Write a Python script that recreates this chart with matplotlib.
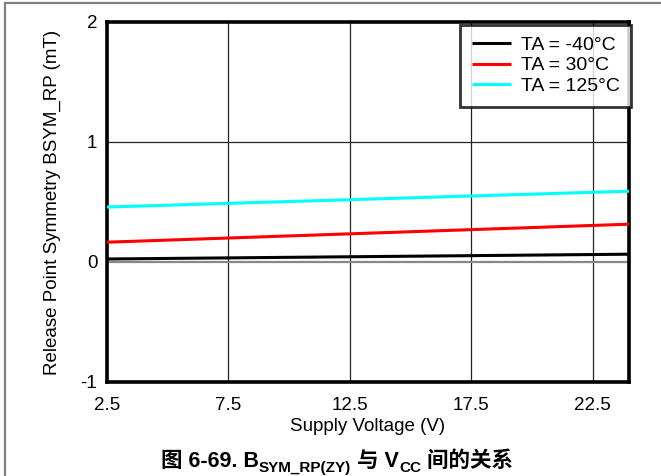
import matplotlib
matplotlib.use("Agg")
import matplotlib.pyplot as plt
from matplotlib.lines import Line2D

plt.rcParams['font.family'] = ['Liberation Sans', 'DejaVu Sans']

# Data
vcc = [2.5, 24.0]
series_labels = ['TA = -40°C', 'TA = 30°C', 'TA = 125°C']
series_colors = ['#000000', '#ff0000', '#00ffff']
b_m40 = [0.025, 0.065]
b_30 = [0.165, 0.315]
b_125 = [0.458, 0.59]
x_ticks = [2.5, 7.5, 12.5, 17.5, 22.5]
y_ticks = [-1, 0, 1, 2]

W, H = 661, 476
fig = plt.figure(figsize=(W / 100, H / 100), dpi=100)

def fx(px):
    return px / W

def fy(py):
    return 1 - py / H

FS = 13.5
ax = fig.add_axes([fx(107), fy(382), fx(629) - fx(107), fy(22) - fy(382)])
ax.set_xlim(2.5, 24.0)
ax.set_ylim(-1, 2)
ax.set_xticks(x_ticks)
ax.set_xticklabels(['2.5', '7.5', '12.5', '17.5', '22.5'])
ax.set_yticks(y_ticks)
ax.set_yticklabels(['-1', '0', '1', '2'])
ax.tick_params(length=0, labelsize=FS)
ax.tick_params(axis='x', pad=11)
ax.tick_params(axis='y', pad=7)

for v in x_ticks[1:]:
    ax.axvline(v, color='#222222', lw=0.9, zorder=1)
ax.axhline(1, color='#222222', lw=0.9, zorder=1)
ax.axhline(0, color='#888888', lw=1.6, zorder=1)

for data, c, lab in zip([b_m40, b_30, b_125], series_colors, series_labels):
    ax.plot(vcc, data, color=c, lw=2.2, label=lab, zorder=3, solid_capstyle='butt')

for s in ax.spines.values():
    s.set_linewidth(2.6)
    s.set_color('black')

ax.set_xlabel('Supply Voltage (V)', fontsize=FS, labelpad=3)
ax.set_ylabel('Release Point Symmetry BSYM_RP (mT)', fontsize=FS, labelpad=14)

leg = ax.legend(loc='upper right', bbox_to_anchor=(1.004, 0.993), borderaxespad=0,
                fontsize=14, frameon=True, fancybox=False, handlelength=2.0,
                handletextpad=0.5, labelspacing=0.15, borderpad=0.6)
leg.get_frame().set_edgecolor('black')
leg.get_frame().set_linewidth(2.0)
leg.set_zorder(5)

# Figure border (gray)
fig.add_artist(Line2D([fx(5), 1.0], [fy(3), fy(3)], color='#808080', lw=1.6))
fig.add_artist(Line2D([fx(5), fx(5)], [fy(3), 0.0], color='#808080', lw=1.6))

# Caption with subscripts, built piecewise
fig.canvas.draw()
renderer = fig.canvas.get_renderer()
cap_family = ['Liberation Sans', 'Noto Sans CJK SC', 'DejaVu Sans']
pieces = [
    ('图 6-69. B', 15.5, 0),
    ('SYM_RP(ZY)', 11, -5),
    (' 与 V', 15.5, 0),
    ('CC', 11, -5),
    (' 间的关系', 15.5, 0),
]
base_y = fy(467)
texts = []
x = 0.0
for s, size, dy in pieces:
    t = fig.text(x, base_y + dy / H, s, fontsize=size, fontweight='bold',
                 family=cap_family, ha='left', va='baseline')
    texts.append(t)
    bb = t.get_window_extent(renderer)
    x += bb.width / W
total = x
start = fx(337) - total / 2
x = start
for t in texts:
    bb = t.get_window_extent(renderer)
    t.set_x(x)
    x += bb.width / W

fig.savefig('out.png', dpi=100)
